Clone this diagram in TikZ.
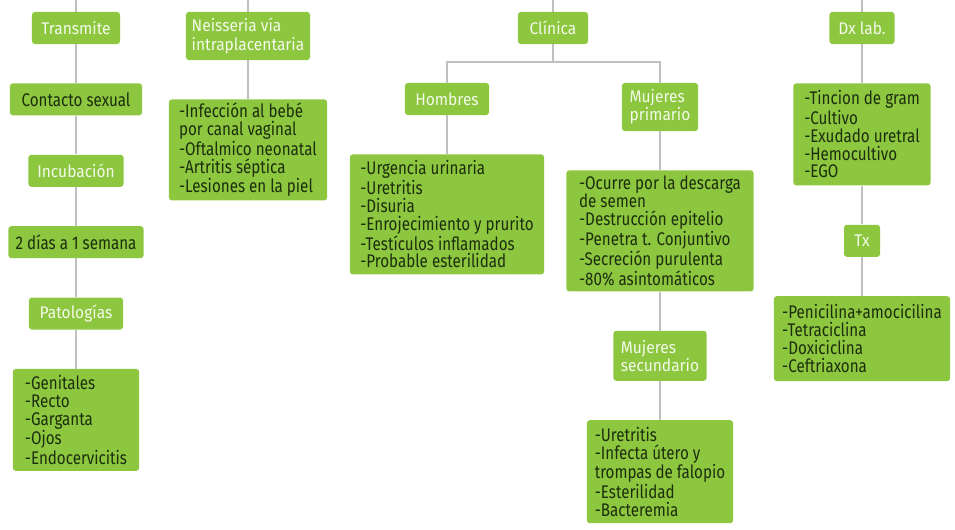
\documentclass[tikz,border=0pt]{standalone}
\usepackage{fontspec}
\setmainfont{Fira Sans}[FakeStretch=0.83]
\newfontfamily\headfam{Fira Sans}[FakeStretch=0.92]
\usepackage{tikz}
\usetikzlibrary{positioning}
\definecolor{leaf}{RGB}{141,198,63}
\definecolor{headtext}{RGB}{243,250,234}
\definecolor{listtext}{RGB}{28,46,14}
\definecolor{linkgray}{RGB}{192,192,192}
\tikzset{
    head/.style={rectangle, fill=leaf, rounded corners=2pt, text=headtext, align=left, inner sep=0pt, minimum height=0.8cm, font=\headfam\fontsize{12}{13}\selectfont},
    list/.style={rectangle, fill=leaf, rounded corners=2pt, text=listtext, align=left, inner sep=0pt, font=\fontsize{13}{12.7}\selectfont},
    link/.style={draw=linkgray, line width=1.5pt},
}
\begin{document}
\begin{tikzpicture}[x=0.025cm, y=0.025cm, node distance=0.97cm]
        \useasboundingbox (0,0) rectangle (955,529);
        \node [head, minimum width=2.2cm] (transmite) at (76,501) {Transmite};
        \node [list, minimum width=3.3cm, minimum height=0.8cm] (contacto) [below=of transmite] {Contacto sexual};
        \node [head, minimum width=2.375cm] (incubacion) [below=of contacto] {Incubación};
        \node [list, minimum width=3.375cm, minimum height=0.8cm] (dias) [below=of incubacion] {2 días a 1 semana};
        \node [head, minimum width=2.35cm] (patologias) [below=of dias] {Patologías};
        \node [list, minimum width=3.15cm, minimum height=2.55cm] (sitios) [below=of patologias] {-Genitales\\-Recto\\-Garganta\\-Ojos\\-Endocervicitis};
        \node [head, minimum width=3.1cm, minimum height=1.2cm] (neisseria) at (248,493) {Neisseria vía\\intraplacentaria};
        \node [list, minimum width=3.95cm, minimum height=2.525cm] (bebe) [below=of neisseria] {-Infección al bebé\\por canal vaginal\\-Oftalmico neonatal\\-Artritis séptica\\-Lesiones en la piel};
        \node [head, minimum width=1.75cm] (clinica) at (553,501) {Clínica};
        \node [head, minimum width=2.1cm] (hombres) at (447,430) {Hombres};
        \node [list, minimum width=4.85cm, minimum height=3cm] (hsintomas) [below=of hombres] {-Urgencia urinaria\\-Uretritis\\-Disuria\\-Enrojecimiento y prurito\\-Testículos inflamados\\-Probable esterilidad};
        \node [head, minimum width=1.9cm, minimum height=1.2cm] (mprimario) at (660,422) {Mujeres\\primario};
        \node [list, minimum width=4.675cm, minimum height=3.025cm] (psintomas) [below=of mprimario] {-Ocurre por la descarga\\de semen\\-Destrucción epitelio\\-Penetra t. Conjuntivo\\-Secreción purulenta\\-80\% asintomáticos};
        \node [head, minimum width=2.325cm, minimum height=1.25cm] (msecundario) [below=of psintomas] {Mujeres\\secundario};
        \node [list, minimum width=3.65cm, minimum height=2.575cm] (ssintomas) [below=of msecundario] {-Uretritis\\-Infecta útero y\\trompas de falopio\\-Esterilidad\\-Bacteremia};
        \node [head, minimum width=1.625cm] (dxlab) at (862,501) {Dx lab.};
        \node [list, minimum width=3.425cm, minimum height=2.55cm] (pruebas) [below=of dxlab] {-Tincion de gram\\-Cultivo\\-Exudado uretral\\-Hemocultivo\\-EGO};
        \node [head, minimum width=0.9cm] (tx) [below=of pruebas] {Tx};
        \node [list, minimum width=4.4cm, minimum height=2.125cm] (farmacos) [below=of tx] {-Penicilina+amocicilina\\-Tetraciclina\\-Doxiciclina\\-Ceftriaxona};
        \coordinate (ttransmite) at (76,529);
        \coordinate (tneisseria) at (248,529);
        \coordinate (tclinica) at (553,529);
        \coordinate (tdxlab) at (862,529);
        \draw[link] (ttransmite) -- (transmite);
        \draw[link] (tneisseria) -- (neisseria);
        \draw[link] (tclinica) -- (clinica);
        \draw[link] (tdxlab) -- (dxlab);
        \draw[link] (transmite) -- (contacto);
        \draw[link] (contacto) -- (incubacion);
        \draw[link] (incubacion) -- (dias);
        \draw[link] (dias) -- (patologias);
        \draw[link] (patologias) -- (sitios);
        \draw[link] (neisseria) -- (bebe);
        \draw[link] (clinica.south) -- ++(0,-18) -| (hombres.north);
        \draw[link] (clinica.south) -- ++(0,-18) -| (mprimario.north);
        \draw[link] (hombres) -- (hsintomas);
        \draw[link] (mprimario) -- (psintomas);
        \draw[link] (psintomas) -- (msecundario);
        \draw[link] (msecundario) -- (ssintomas);
        \draw[link] (dxlab) -- (pruebas);
        \draw[link] (pruebas) -- (tx);
        \draw[link] (tx) -- (farmacos);
    \end{tikzpicture}
\end{document}
